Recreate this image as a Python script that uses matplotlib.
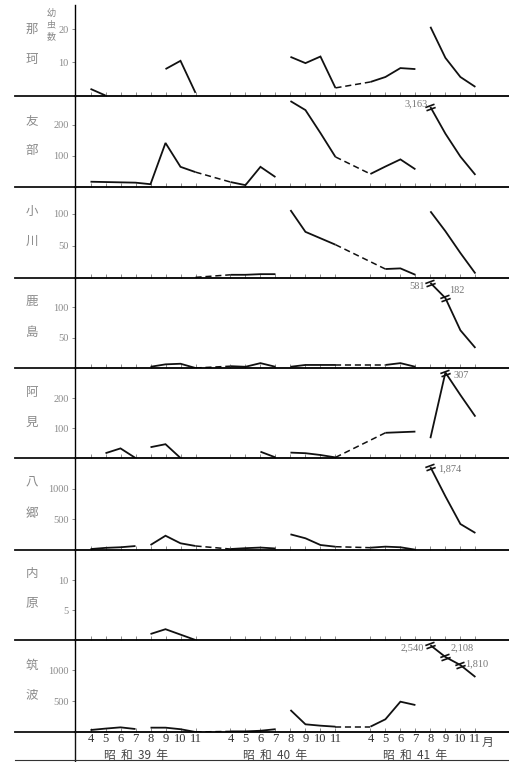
import matplotlib
matplotlib.use("Agg")
import matplotlib.pyplot as plt
from matplotlib.path import Path
from matplotlib.markers import MarkerStyle
from matplotlib.transforms import Affine2D
from matplotlib.lines import Line2D

plt.rcParams["font.family"] = ["Noto Sans CJK JP", "DejaVu Sans"]

months = [4, 5, 6, 7, 8, 9, 10, 11]
years = [39, 40, 41]

# 月別幼虫数 昭和39-41年 4-11月 (None = 記録なし)
naka = [2, 0, None, None, None, 8.0, 10.5, 0.8,
        None, None, None, None, 11.7, 9.8, 11.8, 2.3,
        4.1, 5.6, 8.3, 8.0, 20.8, 11.4, 5.6, 2.6]
tomobe = [17, 16, 15, 14, 9, 142, 65, 48,
          16, 6, 65, 32, 277, 248, 174, 97,
          42, 66, 89, 57, 3163, 172, 98, 39]
ogawa = [None, None, None, None, None, None, None, 1,
         5, 5, 6, 6, 106, 72, 62, 52,
         None, 14, 15, 5, 104, 73, 39, 7]
kashima = [None, None, None, None, 2, 6, 7, 0,
           3, 2, 8, 2, 2, 5, 5, 5,
           None, 5, 8, 2, 581, 182, 62, 33]
ami = [None, 16, 32, 0, 36, 46, 0, None,
       None, None, 21, 2, 18, 16, 10, 2,
       None, 84, 86, 88, 66, 307, 210, 138]
yasato = [15, 35, 45, 65, 82, 234, 110, 66,
          16, 30, 40, 25, 257, 192, 82, 54,
          38, 55, 45, 5, 1874, 880, 426, 279]
uchihara = [None, None, None, None, 1.0, 1.8, 0.9, 0,
            None, None, None, None, None, None, None, None,
            None, None, None, None, None, None, None, None]
tsukuba = [32, 55, 75, 48, 70, 70, 45, 0,
           10, 10, 20, 45, 355, 124, 102, 86,
           86, 205, 489, 435, 2540, 2108, 1810, 887]

areas = ["那珂", "友部", "小川", "鹿島", "阿見", "八郷", "内原", "筑波"]
series = [naka, tomobe, ogawa, kashima, ami, yasato, uchihara, tsukuba]
yticks = [[10, 20], [100, 200], [50, 100], [50, 100],
          [100, 200], [500, 1000], [5, 10], [500, 1000]]

# off-scale points: index -> height at which the figure draws them (axis broken)
shown = {1: {20: 258}, 3: {20: 140, 21: 115}, 4: {21: 285},
         5: {20: 1360}, 7: {20: 1400, 21: 1210, 22: 1080}}
# solid joins across the Jul/Aug gap
extra_links = {1: [3]}

# ---- layout (pixels of the 509x762 page) ----
W, H = 509, 762
baselines = [95.5, 187, 278, 368, 458, 550, 640, 732]
tops = [5] + baselines[:-1]
ymax = [27.4, 295, 142, 148, 300, 1508, 15, 1484]
axis_px = 75
x0_px, step_px, year_gap = 90.5, 15.0, 9.33
label_pos = {(1, 20): (-3, 3, "right"), (3, 20): (-6, -4, "right"),
             (3, 21): (4, 8, "left"), (4, 21): (8, -3, "left"),
             (5, 20): (8, -2, "left"), (7, 20): (-6, -3, "right"),
             (7, 21): (5, 9, "left"), (7, 22): (5, 1, "left")}

xs = [(m - 4) + year_gap * k for k in range(3) for m in months]

grey = "#8a8a8a"
serif = "Liberation Serif"

brk = Path([(-1, 0.35), (1, 0.35), (-1, -0.35), (1, -0.35)],
           [Path.MOVETO, Path.LINETO, Path.MOVETO, Path.LINETO])
brk_marker = MarkerStyle(brk, transform=Affine2D().rotate_deg(20))


def runs(vals, links):
    out, cur = [], []
    for i, v in enumerate(vals):
        if v is None:
            if cur:
                out.append(cur)
            cur = []
            continue
        if cur:
            joined = (cur[-1] == i - 1 and i % 8 != 0
                      and (i % 8 != 4 or (i - 1) in links))
            if not joined:
                out.append(cur)
                cur = []
        cur.append(i)
    if cur:
        out.append(cur)
    return out


fig = plt.figure(figsize=(W / 100, H / 100), dpi=100)
fig.patch.set_facecolor("white")

for p, vals in enumerate(series):
    top, base = tops[p], baselines[p]
    ax = fig.add_axes([axis_px / W, 1 - base / H, (W - axis_px) / W, (base - top) / H])
    ax.set_xlim((axis_px - x0_px) / step_px, (W - x0_px) / step_px)
    ax.set_ylim(0, ymax[p])
    for s in ["top", "right"]:
        ax.spines[s].set_visible(False)
    ax.spines["left"].set_linewidth(1.0)
    ax.spines["bottom"].set_linewidth(1.3)
    ax.patch.set_alpha(0)

    sh = shown.get(p, {})
    ys = [None if v is None else sh.get(i, v) for i, v in enumerate(vals)]
    for r in runs(vals, extra_links.get(p, [])):
        ax.plot([xs[i] for i in r], [ys[i] for i in r], color="#111",
                lw=1.3, solid_joinstyle="miter", solid_capstyle="butt")
    for k in range(2):
        a = 8 * k + 7
        if ys[a] is None:
            continue
        nxt = [j for j in range(8 * (k + 1), 8 * (k + 1) + 4) if ys[j] is not None]
        if nxt:
            b = nxt[0]
            ax.plot([xs[a], xs[b]], [ys[a], ys[b]], color="#111", lw=1.1,
                    ls=(0, (4, 2.5)))
    for i, hv in sh.items():
        ax.plot(xs[i], hv, marker=brk_marker, ms=7, mew=1.2, mfc="none",
                mec="#111", ls="none")
        dx, dy, ha = label_pos[(p, i)]
        ax.annotate(f"{vals[i]:,}", (xs[i], hv), xytext=(dx, dy),
                    textcoords="offset pixels", ha=ha, va="center",
                    fontsize=7.5, color="#777", family=serif)

    ax.set_yticks(yticks[p])
    ax.set_yticklabels([str(t) for t in yticks[p]], family=serif)
    ax.tick_params(axis="y", direction="out", length=2.5, width=0.7,
                   colors=grey, labelsize=7.5, pad=2)
    ax.set_xticks(xs)
    ax.tick_params(axis="x", direction="in", length=3, width=0.6, color="#777",
                   labelbottom=(p == len(series) - 1), labelsize=9,
                   labelcolor="#333", pad=1)
    if p == len(series) - 1:
        ax.set_xticklabels([str(m) for m in months] * 3, family=serif)
        for k, y in enumerate(years):
            ax.annotate(f"昭  和  {y}  年", (xs[8 * k + 3], 0),
                        xycoords=("data", "axes fraction"), xytext=(0, -24),
                        textcoords="offset pixels", ha="center", va="center",
                        fontsize=8.5, color="#444")
        ax.annotate("月", (xs[-1], 0), xycoords=("data", "axes fraction"),
                    xytext=(12, -10), textcoords="offset pixels",
                    ha="center", va="center", fontsize=8.5, color="#444")

    # area name, two characters stacked
    mid = (top + base) / 2
    fig.text(32 / W, 1 - (mid - 21) / H, areas[p][0], ha="center", va="center",
             fontsize=9, color=grey)
    fig.text(32 / W, 1 - (mid + 9) / H, areas[p][1], ha="center", va="center",
             fontsize=9, color=grey)
    fig.add_artist(Line2D([15 / W, axis_px / W], [1 - base / H] * 2,
                          transform=fig.transFigure, color="#111", lw=1.3))

for j, ch in enumerate("幼虫数"):
    fig.text(51 / W, 1 - (13 + 12 * j) / H, ch, ha="center", va="center",
             fontsize=6.5, color=grey)

fig.add_artist(Line2D([axis_px / W] * 2, [1 - baselines[-1] / H, 0],
                      transform=fig.transFigure, color="#111", lw=1.0))
fig.add_artist(Line2D([15 / W, 1], [1 - 760 / H] * 2,
                      transform=fig.transFigure, color="#333", lw=0.8))

fig.savefig("out.png", dpi=100)
